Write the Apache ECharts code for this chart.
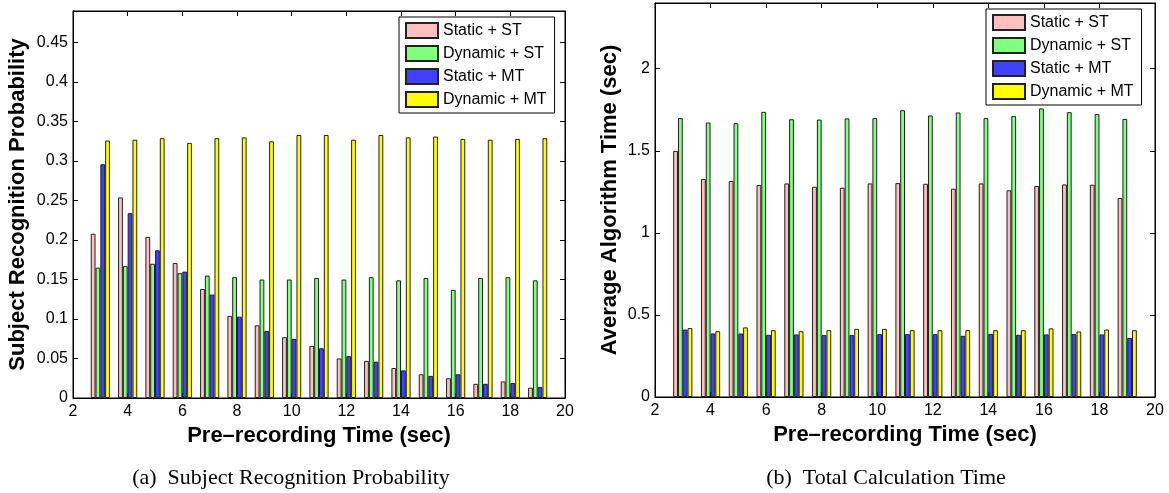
<!DOCTYPE html>
<html>
<head>
<meta charset="utf-8">
<script src="https://cdn.jsdelivr.net/npm/echarts@6/dist/echarts.min.js"></script>
<style>
body{margin:0;background:#fff;}
#main{width:1169px;height:493px;}
</style>
</head>
<body>
<div id="main"></div>
<script>
// pre-recording time (sec)
var times = [3, 4, 5, 6, 7, 8, 9, 10, 11, 12, 13, 14, 15, 16, 17, 18, 19];
var seriesNames = ["Static + ST", "Dynamic + ST", "Static + MT", "Dynamic + MT"];
var colors = ["#ffbfbf", "#80ff80", "#4040ff", "#ffff00"];

// (a) subject recognition probability
var probStaticST  = [0.208, 0.254, 0.204, 0.171, 0.138, 0.104, 0.092, 0.077, 0.066, 0.050, 0.047, 0.038, 0.030, 0.025, 0.018, 0.021, 0.013];
var probDynamicST = [0.165, 0.167, 0.170, 0.158, 0.155, 0.153, 0.150, 0.150, 0.152, 0.150, 0.153, 0.149, 0.152, 0.137, 0.152, 0.153, 0.149];
var probStaticMT  = [0.296, 0.234, 0.187, 0.160, 0.131, 0.103, 0.085, 0.075, 0.063, 0.053, 0.046, 0.035, 0.028, 0.030, 0.018, 0.019, 0.014];
var probDynamicMT = [0.326, 0.327, 0.329, 0.323, 0.329, 0.330, 0.325, 0.333, 0.333, 0.327, 0.333, 0.330, 0.331, 0.328, 0.327, 0.328, 0.329];

// (b) average algorithm time (sec)
var timeStaticST  = [1.499, 1.328, 1.316, 1.291, 1.301, 1.281, 1.275, 1.301, 1.303, 1.299, 1.269, 1.301, 1.259, 1.285, 1.295, 1.293, 1.212];
var timeDynamicST = [1.699, 1.672, 1.668, 1.737, 1.692, 1.690, 1.697, 1.699, 1.747, 1.715, 1.733, 1.699, 1.711, 1.758, 1.735, 1.723, 1.694];
var timeStaticMT  = [0.411, 0.387, 0.387, 0.379, 0.381, 0.377, 0.377, 0.383, 0.383, 0.383, 0.373, 0.385, 0.379, 0.381, 0.383, 0.381, 0.360];
var timeDynamicMT = [0.420, 0.401, 0.424, 0.407, 0.401, 0.407, 0.415, 0.415, 0.407, 0.407, 0.407, 0.407, 0.407, 0.418, 0.399, 0.411, 0.407];

// axis ticks
var xTicks = {min: 2, max: 20, interval: 2};
var probAxis = {min: 0, max: 0.49, interval: 0.05};
var timeAxis = {min: 0, max: 2.4, interval: 0.5};

var sans = "Liberation Sans, Arial, Helvetica, sans-serif";
var serif = "Liberation Serif, Times New Roman, serif";

function pairs(vals){
	var out = [];
	for(var i = 0; i < times.length; i++){
		out.push([times[i], vals[i]]);
	}
	return out;
}

// bottom / left axis with labels and inward ticks
function xAxisOf(grid, name){
	return {type:'value', gridIndex:grid, min:xTicks.min, max:xTicks.max, interval:xTicks.interval,
		name:name, nameLocation:'middle', nameGap:22,
		nameTextStyle:{fontFamily:sans, fontSize:22, fontWeight:'bold', color:'#000'},
		axisLine:{onZero:false, lineStyle:{color:'#000', width:1}},
		axisTick:{inside:true, length:5, lineStyle:{color:'#000'}},
		axisLabel:{fontFamily:sans, fontSize:16, color:'#000', margin:6},
		splitLine:{show:false}};
}
function yAxisOf(grid, rng, name, gap){
	return {type:'value', gridIndex:grid, min:rng.min, max:rng.max, interval:rng.interval,
		name:name, nameLocation:'middle', nameGap:gap,
		nameTextStyle:{fontFamily:sans, fontSize:22, fontWeight:'bold', color:'#000'},
		axisLine:{onZero:false, lineStyle:{color:'#000', width:1}},
		axisTick:{inside:true, length:5, lineStyle:{color:'#000'}},
		axisLabel:{fontFamily:sans, fontSize:16, color:'#000', margin:5, showMaxLabel:false},
		splitLine:{show:false}};
}
// mirrored ticks on top / right, no labels
function boxAxis(type, grid, rng, pos){
	return {type:'value', gridIndex:grid, position:pos, min:rng.min, max:rng.max, interval:rng.interval,
		axisLine:{onZero:false, lineStyle:{color:'#000', width:1}},
		axisTick:{inside:true, length:5, lineStyle:{color:'#000'}},
		axisLabel:{show:false}, splitLine:{show:false}};
}

function barSeries(name, color, vals, xi, yi){
	return {name:name, type:'bar', xAxisIndex:xi, yAxisIndex:yi, barWidth:4.8, barGap:'0%',
		itemStyle:{color:color, borderColor:'#222', borderWidth:1},
		emphasis:{disabled:true}, animation:false, data:pairs(vals)};
}

function legendAt(left, top){
	return {left:left, top:top, orient:'vertical', data:seriesNames, selectedMode:false,
		icon:'rect', itemWidth:32, itemHeight:15, itemGap:6, itemTextGap:4,
		padding:[5, 8, 5, 6], backgroundColor:'#fff', borderColor:'#000', borderWidth:1,
		textStyle:{fontFamily:sans, fontSize:16, color:'#000'}};
}

var chart = echarts.init(document.getElementById('main'));
var option = {
	animation:false,
	backgroundColor:'#fff',
	title:[
		{text:'(a)  Subject Recognition Probability', left:286, top:462, textAlign:'center',
			textStyle:{fontFamily:serif, fontSize:22, fontWeight:'normal', color:'#000'}},
		{text:'(b)  Total Calculation Time', left:881, top:462, textAlign:'center',
			textStyle:{fontFamily:serif, fontSize:22, fontWeight:'normal', color:'#000'}}
	],
	grid:[
		{left:73, top:11, width:492, height:387, show:true, borderColor:'#000', borderWidth:1, backgroundColor:'#fff'},
		{left:655, top:3, width:500, height:394, show:true, borderColor:'#000', borderWidth:1, backgroundColor:'#fff'}
	],
	legend:[legendAt(399, 17), legendAt(986, 9)],
	xAxis:[
		xAxisOf(0, 'Pre\u2013recording Time (sec)'),
		boxAxis('x', 0, xTicks, 'top'),
		xAxisOf(1, 'Pre\u2013recording Time (sec)'),
		boxAxis('x', 1, xTicks, 'top')
	],
	yAxis:[
		yAxisOf(0, probAxis, 'Subject Recognition Probability', 44),
		boxAxis('y', 0, probAxis, 'right'),
		yAxisOf(1, timeAxis, 'Average Algorithm Time (sec)', 34),
		boxAxis('y', 1, timeAxis, 'right')
	],
	series:[
		barSeries(seriesNames[0], colors[0], probStaticST, 0, 0),
		barSeries(seriesNames[1], colors[1], probDynamicST, 0, 0),
		barSeries(seriesNames[2], colors[2], probStaticMT, 0, 0),
		barSeries(seriesNames[3], colors[3], probDynamicMT, 0, 0),
		barSeries(seriesNames[0], colors[0], timeStaticST, 2, 2),
		barSeries(seriesNames[1], colors[1], timeDynamicST, 2, 2),
		barSeries(seriesNames[2], colors[2], timeStaticMT, 2, 2),
		barSeries(seriesNames[3], colors[3], timeDynamicMT, 2, 2)
	]
};
chart.setOption(option);
</script>
</body>
</html>
